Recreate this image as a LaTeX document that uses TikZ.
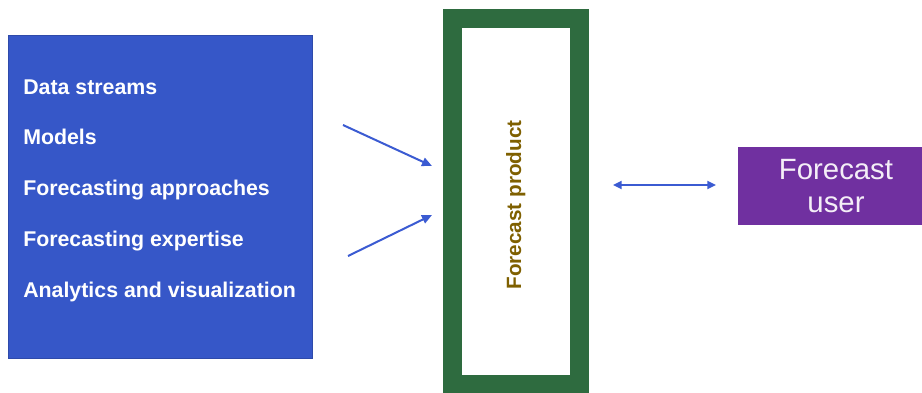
\documentclass[tikz,border=0pt]{standalone}
\usepackage{fontspec}
\setmainfont{Liberation Sans}
\usetikzlibrary{arrows.meta,positioning}
\definecolor{sourceblue}{HTML}{3657C8}
\definecolor{framegreen}{HTML}{2E6B3F}
\definecolor{userpurple}{HTML}{7030A0}
\definecolor{labelbrown}{HTML}{7F6000}
\definecolor{arrowblue}{HTML}{3B5BD2}

\begin{document}
\begin{tikzpicture}[x=0.75pt,y=-0.75pt,
	flow/.style={arrowblue, line width=1.5pt, -{Triangle[length=7.5pt,width=6.5pt]}},
	exchange/.style={arrowblue, line width=1.3pt, {Triangle[length=6.5pt,width=6pt]}-{Triangle[length=6.5pt,width=6pt]}}]
	\useasboundingbox (0,0) rectangle (922,393);
	% inputs
	\node[fill=sourceblue, draw=sourceblue!85!black, line width=0.5pt, minimum width=228pt, minimum height=242.25pt, inner sep=0pt] (Sources) at (160,196.5) {};
	\foreach \Item [count=\i] in {Data streams, Models, Forecasting approaches, Forecasting expertise, Analytics and visualization}
		\node[anchor=base west, white, font=\bfseries\fontsize{16}{19}\selectfont, inner sep=0pt] (Item\i) at (23,{94+50.75*(\i-1)}) {\Item};
	% product
	\node[draw=framegreen, line width=14.25pt, fill=white, minimum width=94.9pt, minimum height=274.5pt, inner sep=0pt] (Product) at (515.75,201) {};
	\node[rotate=90, labelbrown, font=\bfseries\fontsize{15.5}{18}\selectfont, inner sep=0pt] (ProductLabel) at ([yshift=-3pt]Product.center) {Forecast product};
	% user (runs past the right edge)
	\node[fill=userpurple, minimum width=147pt, minimum height=58.5pt, align=center, text=white!92!userpurple, font=\fontsize{22}{24.75}\selectfont, inner sep=0pt] (User) at (836,186) {Forecast\\user};
	% connectors
	\coordinate (TopStart) at (343,125);
	\coordinate (TopEnd) at (432,166);
	\coordinate (LowStart) at (348,256);
	\coordinate (LowEnd) at (432,215);
	\coordinate (ProductSide) at (613,185);
	\coordinate (UserSide) at (716,185);
	\draw[flow] (TopStart) -- (TopEnd);
	\draw[flow] (LowStart) -- (LowEnd);
	\draw[exchange] (ProductSide) -- (UserSide);
\end{tikzpicture}
\end{document}
